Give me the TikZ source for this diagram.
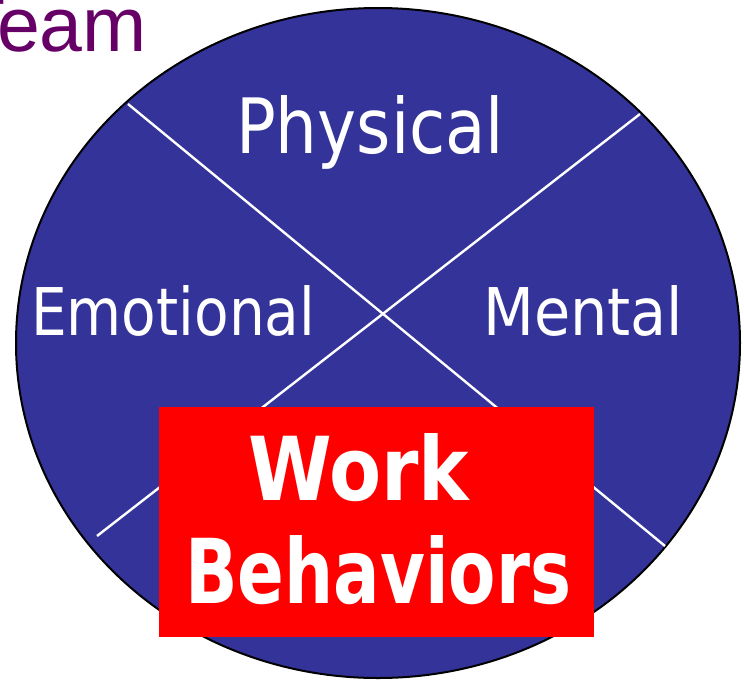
\documentclass[tikz,border=0pt]{standalone}
\usetikzlibrary{shapes.geometric}
\usepackage{fontspec}
\setmainfont{DejaVu Sans}
\newfontfamily\teamfont{Liberation Sans}
\usepackage{graphicx}
\definecolor{wheelblue}{RGB}{51,51,153}
\definecolor{boxred}{RGB}{255,0,0}
\definecolor{teampurple}{RGB}{102,0,102}
\begin{document}
\begin{tikzpicture}[x=1pt,y=-1pt,
  wheeltext/.style={text=white, inner sep=0pt, anchor=base west, font=\fontsize{60}{60}\selectfont},
  worktext/.style={text=white, inner sep=0pt, anchor=base west, font=\fontsize{80}{80}\selectfont\bfseries},
  divider/.style={draw=white, line width=2.4pt},
  redbox/.style={fill=boxred, draw=none}]
\clip (0,0) rectangle (744,681);
\useasboundingbox (0,0) rectangle (744,681);
% title fragment
\node[text=teampurple, inner sep=0pt, anchor=base east, font=\fontsize{77}{77}\selectfont\teamfont] (team) at (147,51) {Team};
% wheel
\node[ellipse, draw=black, line width=2pt, fill=wheelblue, minimum width=724pt, minimum height=670pt, inner sep=0pt] (wheel) at (378,343) {};
\coordinate (tl) at (128,104);
\coordinate (br) at (665,546);
\coordinate (tr) at (640,114);
\coordinate (bl) at (97,536);
\draw[divider] (tl) -- (br);
\draw[divider] (tr) -- (bl);
% labels
\node[wheeltext] (phys) at (236,153) {\resizebox{268pt}{58pt}{Physical}};
\node[wheeltext] (emo) at (31,335) {\resizebox{284pt}{50pt}{Emotional}};
\node[wheeltext] (ment) at (483,335) {\resizebox{200pt}{50pt}{Mental}};
% red box
\node[redbox, minimum width=435pt, minimum height=230pt, inner sep=0pt] (box) at (376.5,522) {};
\node[worktext] (work) at (248,500) {\resizebox{221pt}{67pt}{Work}};
\node[worktext] (beh) at (185,603) {\resizebox{386pt}{68pt}{Behaviors}};
\end{tikzpicture}
\end{document}
